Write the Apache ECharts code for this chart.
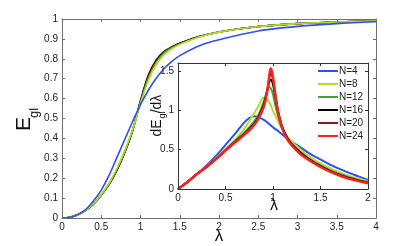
<!DOCTYPE html>
<html><head><meta charset="utf-8">
<script src="https://cdn.jsdelivr.net/npm/echarts@6/dist/echarts.min.js"></script>
<style>html,body{margin:0;padding:0;background:#fff}#c{width:415px;height:246px}</style>
</head><body><div id="c"></div>
<script>
var seriesNames = ['N=4','N=8','N=12','N=16','N=20','N=24'];
var colors = ['#2f4ff2','#b8dc2e','#3aa935','#000000','#8a1a1a','#ff1f1f'];

// Main plot: E_gl vs lambda
var mainLambda = [0,0.1,0.2,0.3,0.4,0.5,0.6,0.7,0.8,0.9,1.0,1.1,1.2,1.3,1.4,1.5,1.75,2,2.5,3,3.5,4];
var mainN4  = [0,0.004,0.017,0.042,0.085,0.14,0.215,0.305,0.395,0.485,0.57,0.642,0.702,0.75,0.787,0.816,0.866,0.896,0.94,0.963,0.977,0.986];
var mainN8  = [0,0.004,0.016,0.039,0.072,0.118,0.175,0.25,0.34,0.445,0.575,0.69,0.77,0.82,0.85,0.872,0.91,0.934,0.962,0.977,0.985,0.99];
var mainN12 = [0,0.004,0.016,0.038,0.071,0.116,0.172,0.245,0.335,0.442,0.582,0.705,0.783,0.83,0.856,0.875,0.911,0.935,0.962,0.977,0.985,0.99];
var mainN16 = [0,0.004,0.016,0.038,0.070,0.115,0.171,0.243,0.332,0.441,0.586,0.712,0.789,0.834,0.858,0.877,0.912,0.935,0.962,0.977,0.985,0.99];
var mainN20 = [0,0.004,0.016,0.038,0.070,0.115,0.170,0.241,0.331,0.440,0.588,0.716,0.792,0.836,0.859,0.878,0.912,0.935,0.962,0.977,0.985,0.99];
var mainN24 = [0,0.004,0.016,0.038,0.070,0.115,0.170,0.240,0.330,0.440,0.590,0.720,0.795,0.837,0.860,0.878,0.912,0.935,0.962,0.977,0.985,0.99];

// Inset: dE_gl/dlambda vs lambda
var insetLambda = [0,0.1,0.2,0.3,0.4,0.5,0.6,0.7,0.75,0.8,0.85,0.9,0.925,0.95,0.9625,0.975,0.9875,1.0,1.025,1.05,1.075,1.1,1.15,1.2,1.3,1.4,1.5,1.6,1.7,1.8,1.9,2.0];
var insetN4  = [0,0.09,0.19,0.3,0.42,0.56,0.7,0.85,0.9,0.925,0.91,0.88,0.86,0.835,0.822,0.81,0.797,0.785,0.76,0.74,0.715,0.69,0.645,0.6,0.52,0.44,0.375,0.31,0.255,0.205,0.16,0.115];
var insetN8  = [0,0.09,0.19,0.285,0.39,0.505,0.625,0.77,0.86,0.96,1.06,1.16,1.15,1.12,1.095,1.07,1.03,0.99,0.93,0.87,0.81,0.76,0.67,0.6,0.49,0.4,0.325,0.265,0.21,0.165,0.13,0.1];
var insetN12 = [0,0.09,0.19,0.28,0.385,0.5,0.61,0.72,0.785,0.855,0.95,1.1,1.2,1.29,1.295,1.28,1.25,1.2,1.06,0.94,0.84,0.76,0.65,0.57,0.46,0.37,0.3,0.24,0.19,0.15,0.115,0.088];
var insetN16 = [0,0.09,0.19,0.28,0.38,0.49,0.6,0.7,0.76,0.825,0.92,1.06,1.17,1.31,1.37,1.39,1.375,1.33,1.17,1.0,0.88,0.78,0.65,0.565,0.45,0.36,0.29,0.23,0.18,0.14,0.107,0.08];
var insetN20 = [0,0.09,0.19,0.28,0.38,0.49,0.595,0.695,0.75,0.815,0.91,1.04,1.16,1.32,1.42,1.47,1.45,1.39,1.19,1.0,0.87,0.77,0.64,0.555,0.44,0.355,0.285,0.225,0.175,0.135,0.103,0.076];
var insetN24 = [0,0.09,0.19,0.28,0.38,0.49,0.59,0.69,0.745,0.81,0.9,1.03,1.15,1.33,1.46,1.53,1.5,1.42,1.2,1.0,0.86,0.76,0.63,0.55,0.43,0.35,0.28,0.22,0.17,0.13,0.1,0.072];

var mainTicksX = [0,4,0.5];
var mainTicksY = [0,1,0.1];
var insetTicksX = [0,2,0.5];
var insetTicksY = [0,1.6,0.5];

var mainSets = [mainN4,mainN8,mainN12,mainN16,mainN20,mainN24];
var insetSets = [insetN4,insetN8,insetN12,insetN16,insetN20,insetN24];

function pairs(xs, ys){ return xs.map(function(x,i){ return [x, ys[i]]; }); }

var FONT = 'Liberation Sans';
var axisGray = '#707070';
var labelColor = '#222';

function mkAxis(opts){
  return {
    type:'value', min:opts.min, max:opts.max, interval:opts.interval,
    gridIndex:opts.grid, position:opts.position,
    axisLine:{show:true, onZero:false, lineStyle:{color:opts.lineColor, width:1}},
    axisTick:{show:true, inside:true, length:3, lineStyle:{color:opts.lineColor}},
    axisLabel:{show:opts.labels, color:labelColor, fontFamily:FONT, fontSize:10, margin:opts.margin||4, showMaxLabel:opts.showMax!==false},
    splitLine:{show:false},
    z: opts.z
  };
}

var series = [];
// main plot: larger N drawn first so the lighter curves sit on top, blue last
var mainOrder = [5,4,3,2,1,0];
mainOrder.forEach(function(i){
  series.push({
    type:'line', name:seriesNames[i], xAxisIndex:0, yAxisIndex:0,
    data:pairs(mainLambda, mainSets[i]), symbol:'none', smooth:0.3,
    lineStyle:{color:colors[i], width:1.6}, itemStyle:{color:colors[i]}, z:2,
    silent:true, animation:false
  });
});
for (var j=0;j<6;j++){
  series.push({
    type:'line', name:seriesNames[j], xAxisIndex:2, yAxisIndex:2,
    data:pairs(insetLambda, insetSets[j]), symbol:'none', smooth:0.3,
    lineStyle:{color:colors[j], width:(j===5?2.4:2)}, itemStyle:{color:colors[j]}, z:20,
    silent:true, animation:false
  });
}

var option = {
  animation:false,
  backgroundColor:'#fff',
  grid:[
    {left:62, top:19, width:314, height:199, show:false, z:0},
    {left:62, top:19, width:314, height:199, show:false, z:0},
    {left:178, top:63, width:190, height:126, show:true, backgroundColor:'#fff', borderWidth:0, z:10}
  ],
  xAxis:[
    mkAxis({grid:0, min:mainTicksX[0], max:mainTicksX[1], interval:mainTicksX[2], position:'bottom', lineColor:axisGray, labels:true, z:3}),
    mkAxis({grid:1, min:mainTicksX[0], max:mainTicksX[1], interval:mainTicksX[2], position:'top', lineColor:axisGray, labels:false, z:3}),
    mkAxis({grid:2, min:insetTicksX[0], max:insetTicksX[1], interval:insetTicksX[2], position:'bottom', lineColor:'#333', labels:true, z:21}),
    mkAxis({grid:2, min:insetTicksX[0], max:insetTicksX[1], interval:insetTicksX[2], position:'top', lineColor:'#333', labels:false, z:21})
  ],
  yAxis:[
    mkAxis({grid:0, min:mainTicksY[0], max:mainTicksY[1], interval:mainTicksY[2], position:'left', lineColor:axisGray, labels:true, z:3}),
    mkAxis({grid:1, min:mainTicksY[0], max:mainTicksY[1], interval:mainTicksY[2], position:'right', lineColor:axisGray, labels:false, z:3}),
    mkAxis({grid:2, min:insetTicksY[0], max:insetTicksY[1], interval:insetTicksY[2], position:'left', lineColor:'#333', labels:true, showMax:false, z:21}),
    mkAxis({grid:2, min:insetTicksY[0], max:insetTicksY[1], interval:insetTicksY[2], position:'right', lineColor:'#333', labels:false, z:21})
  ],
  legend:{
    data:seriesNames, orient:'vertical', left:318, top:66, itemGap:3, padding:0,
    itemWidth:20, itemHeight:2, icon:'rect', z:30,
    textStyle:{fontFamily:FONT, fontSize:10, color:'#222', lineHeight:10, padding:[0,0,0,-4]},
    selectedMode:false
  },
  graphic:[
    {type:'text', x:24, y:124, rotation:Math.PI/2, z:40, style:{text:'E', fontFamily:FONT, fontSize:21, fill:'#111', align:'center', verticalAlign:'middle'}},
    {type:'text', x:34, y:113, rotation:Math.PI/2, z:40, style:{text:'gl', fontFamily:FONT, fontSize:13, fill:'#111', align:'center', verticalAlign:'middle'}},
    {type:'text', x:219, y:236, z:40, style:{text:'λ', fontFamily:FONT, fontSize:17, fill:'#111', align:'center', verticalAlign:'middle'}},
    {type:'text', x:274, y:206, z:40, style:{text:'λ', fontFamily:FONT, fontSize:16, fill:'#111', align:'center', verticalAlign:'middle'}},
    {type:'text', x:157, y:128, rotation:Math.PI/2, z:40, style:{text:'dE', fontFamily:FONT, fontSize:14, fill:'#111', align:'center', verticalAlign:'middle'}},
    {type:'text', x:163, y:115, rotation:Math.PI/2, z:40, style:{text:'gl', fontFamily:FONT, fontSize:9, fill:'#111', align:'center', verticalAlign:'middle'}},
    {type:'text', x:157, y:104, rotation:Math.PI/2, z:40, style:{text:'/dλ', fontFamily:FONT, fontSize:14, fill:'#111', align:'center', verticalAlign:'middle'}}
  ],
  series:series
};
var chart = echarts.init(document.getElementById('c'), null, {renderer:'canvas'});
chart.setOption(option);
</script>
</body></html>
